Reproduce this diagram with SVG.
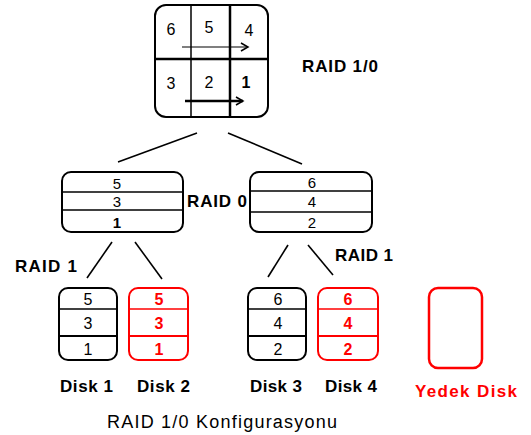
<svg xmlns="http://www.w3.org/2000/svg" width="531" height="435" viewBox="0 0 531 435">
  <style>
    .box { fill: none; stroke: #000; stroke-width: 2; }
    .red { stroke: #ff0000; }
    .div { stroke: #000; stroke-width: 1.5; }
    .divr { stroke: #ff0000; stroke-width: 1.5; }
    .num { font-family: "Liberation Sans", Arial, sans-serif; font-size: 16px; text-anchor: middle; fill: #000; }
    .sm { font-size: 15px; }
    .numr { fill: #ff0000; font-weight: bold; }
    .lbl { font-family: "Liberation Sans", Arial, sans-serif; font-size: 17px; font-weight: bold; fill: #000; }
    .conn { stroke: #000; stroke-width: 1.6; fill: none; }
  </style>
  <defs>
    <marker id="head" markerWidth="10" markerHeight="10" refX="8" refY="5" orient="auto" markerUnits="userSpaceOnUse">
      <path d="M1,1 L8,5 L1,9" fill="none" stroke="#000" stroke-width="1.5"/>
    </marker>
  </defs>

  <rect width="531" height="435" fill="#fff"/>

  <!-- RAID 1/0 striping grid -->
  <g id="raid10-grid">
    <rect class="box" x="155" y="5" width="113" height="112" rx="11"/>
    <line class="div" x1="191" y1="5" x2="191" y2="117"/>
    <line class="div" x1="230" y1="5" x2="230" y2="117" style="stroke-width:2.5"/>
    <line class="div" x1="155" y1="59" x2="268" y2="59" style="stroke-width:2.5"/>
    <text class="num" x="171" y="35">6</text>
    <text class="num" x="209" y="33">5</text>
    <text class="num" x="249" y="36">4</text>
    <text class="num" x="171" y="89">3</text>
    <text class="num" x="209" y="88">2</text>
    <text class="num" x="246" y="88" style="font-weight:bold">1</text>
    <line x1="182" y1="47" x2="248" y2="47" stroke="#000" stroke-width="1.2" marker-end="url(#head)"/>
    <line x1="185" y1="101" x2="243" y2="101" stroke="#000" stroke-width="2.5" marker-end="url(#head)"/>
  </g>
  <text id="label-raid10" class="lbl" x="302" y="72" textLength="76" lengthAdjust="spacing">RAID 1/0</text>

  <!-- RAID 0 stripe sets -->
  <g id="stripe-left">
    <rect class="box" x="62" y="172" width="121" height="60" rx="9"/>
    <line class="div" x1="62" y1="192" x2="183" y2="192"/>
    <line class="div" x1="62" y1="210" x2="183" y2="210"/>
    <text class="num sm" x="117" y="189">5</text>
    <text class="num sm" x="117" y="207">3</text>
    <text class="num sm" x="117" y="228" style="font-weight:bold">1</text>
  </g>
  <g id="stripe-right">
    <rect class="box" x="250" y="172" width="122" height="60" rx="9"/>
    <line class="div" x1="250" y1="191" x2="372" y2="191"/>
    <line class="div" x1="250" y1="212" x2="372" y2="212"/>
    <text class="num sm" x="312" y="188">6</text>
    <text class="num sm" x="312" y="207">4</text>
    <text class="num sm" x="312" y="228">2</text>
  </g>
  <text id="label-raid0" class="lbl" x="187" y="207" textLength="60" lengthAdjust="spacing">RAID 0</text>

  <!-- Mirrored disks -->
  <g id="disk1">
    <rect class="box" x="59" y="288" width="58" height="72" rx="9"/>
    <line class="div" x1="59" y1="309" x2="117" y2="309"/>
    <line class="div" x1="59" y1="336" x2="117" y2="336" style="stroke-width:2.2"/>
    <text class="num" x="88" y="305">5</text>
    <text class="num" x="88" y="329">3</text>
    <text class="num" x="88" y="355">1</text>
  </g>
  <g id="disk2">
    <rect class="box red" x="129" y="288" width="59" height="72" rx="9"/>
    <line class="divr" x1="129" y1="309" x2="188" y2="309"/>
    <line class="divr" x1="129" y1="336" x2="188" y2="336" style="stroke-width:2.2"/>
    <text class="num numr" x="159" y="305">5</text>
    <text class="num numr" x="159" y="329">3</text>
    <text class="num numr" x="159" y="355">1</text>
  </g>
  <g id="disk3">
    <rect class="box" x="248" y="288" width="58" height="72" rx="9"/>
    <line class="div" x1="248" y1="309" x2="306" y2="309"/>
    <line class="div" x1="248" y1="336" x2="306" y2="336" style="stroke-width:2.2"/>
    <text class="num" x="278" y="305">6</text>
    <text class="num" x="278" y="329">4</text>
    <text class="num" x="278" y="355">2</text>
  </g>
  <g id="disk4">
    <rect class="box red" x="318" y="288" width="60" height="72" rx="9"/>
    <line class="divr" x1="318" y1="309" x2="378" y2="309"/>
    <line class="divr" x1="318" y1="336" x2="378" y2="336" style="stroke-width:2.2"/>
    <text class="num numr" x="348" y="305">6</text>
    <text class="num numr" x="348" y="329">4</text>
    <text class="num numr" x="348" y="355">2</text>
  </g>
  <g id="spare-disk">
    <rect class="box red" x="429" y="288" width="53" height="80" rx="9" style="stroke-width:2.5"/>
  </g>

  <!-- Connectors -->
  <g id="connectors">
    <line class="conn" x1="118" y1="162" x2="197" y2="133"/>
    <line class="conn" x1="228" y1="133" x2="302" y2="164"/>
    <line class="conn" x1="87" y1="278" x2="112" y2="242"/>
    <line class="conn" x1="135" y1="242" x2="162" y2="279"/>
    <line class="conn" x1="268" y1="277" x2="288" y2="245"/>
    <line class="conn" x1="308" y1="245" x2="333" y2="275"/>
  </g>

  <!-- Labels -->
  <text class="lbl" x="15" y="272" textLength="62" lengthAdjust="spacing">RAID 1</text>
  <text class="lbl" x="335" y="261" textLength="58" lengthAdjust="spacing">RAID 1</text>
  <text class="lbl" x="60" y="392" textLength="53" lengthAdjust="spacing">Disk 1</text>
  <text class="lbl" x="137" y="392" textLength="53" lengthAdjust="spacing">Disk 2</text>
  <text class="lbl" x="250" y="392" textLength="52" lengthAdjust="spacing">Disk 3</text>
  <text class="lbl" x="325" y="392" textLength="52" lengthAdjust="spacing">Disk 4</text>
  <text class="lbl" x="415" y="397" style="fill:#ff0000" textLength="102" lengthAdjust="spacing">Yedek Disk</text>
  <text class="lbl" x="107" y="428" style="font-weight:normal;font-size:18px" textLength="230" lengthAdjust="spacing">RAID 1/0 Konfigurasyonu</text>
</svg>
